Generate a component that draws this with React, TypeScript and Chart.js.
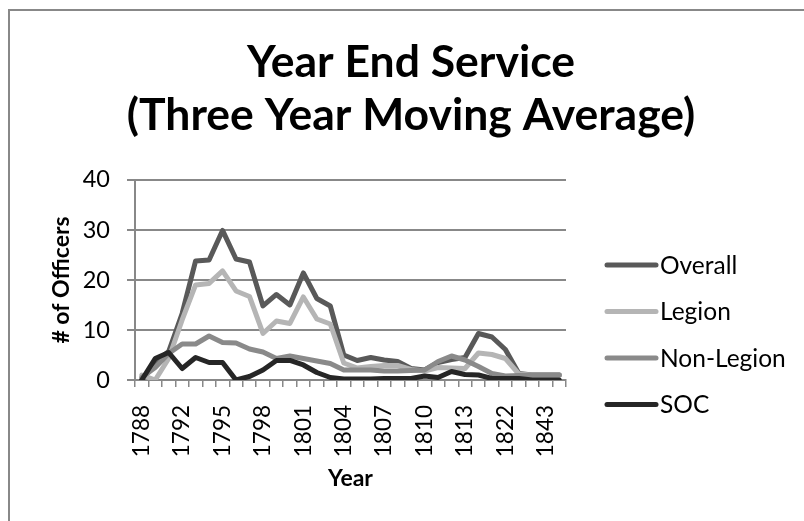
import React, { useEffect, useRef } from 'react';
import { Chart, registerables } from 'chart.js';

Chart.register(...registerables);

// ---- data ----
const years = [
  '1788', '1790', '1791', '1792', '1793', '1794', '1795', '1796', '1797', '1798',
  '1799', '1800', '1801', '1802', '1803', '1804', '1805', '1806', '1807', '1808',
  '1809', '1810', '1811', '1812', '1813', '1814', '1815', '1822', '1823', '1830',
  '1843', '1844',
];
const overall = [0, 3.5, 5.7, 13.3, 23.8, 24, 29.9, 24.2, 23.6, 14.8, 17.1, 15, 21.4, 16.3, 14.8, 5, 3.9, 4.5, 4, 3.7, 2.3, 2, 3.5, 4.1, 4.5, 9.3, 8.6, 6.1, 1.3, 1, 1, 1];
const legion = [1, 0, 4.3, 12, 19, 19.3, 21.8, 17.8, 16.7, 9.3, 11.8, 11.3, 16.6, 12.2, 11.2, 3.4, 2.4, 2.7, 2.9, 2.9, 2.1, 1.8, 2.5, 2.4, 2.3, 5.4, 5.1, 4.3, 1.2, 1, 1, 1];
const nonLegion = [0.5, 2.5, 5.3, 7.2, 7.2, 8.8, 7.5, 7.4, 6.2, 5.6, 4.3, 4.8, 4.3, 3.8, 3.3, 2, 2, 2, 1.8, 1.8, 1.9, 2, 3.7, 4.8, 4, 2.7, 1.3, 0.8, 0.9, 1, 1, 1];
const soc = [0, 4.3, 5.5, 2.3, 4.5, 3.5, 3.5, 0, 0.7, 2, 3.9, 3.9, 3, 1.5, 0.5, 0.2, 0.2, 0.2, 0.3, 0.3, 0.3, 0.8, 0.5, 1.7, 1.1, 1, 0.3, 0.3, 0.3, 0, 0, 0];

const seriesNames = ['Overall', 'Legion', 'Non-Legion', 'SOC'];
const seriesColors = ['#595959', '#b5b5b5', '#8a8a8a', '#262626'];
const titleLines = ['Year End Service', '(Three Year Moving Average)'];
const yTicks = { min: 0, max: 40, step: 10 };
const labelEvery = 3;

const FONT = 'Lato, "Open Sans", "DejaVu Sans", sans-serif';
const AXIS = '#888888';

export default function App() {
  const ref = useRef<HTMLCanvasElement>(null);

  useEffect(() => {
    if (!ref.current) return;

    const sideLegend = {
      id: 'sideLegend',
      afterDraw(chart: any) {
        const { ctx, chartArea } = chart;
        ctx.save();
        const x0 = chartArea.right + 41;
        chart.data.datasets.forEach((ds: any, i: number) => {
          const y = chartArea.top + 85 + i * 46.5;
          ctx.strokeStyle = ds.borderColor;
          ctx.lineWidth = 5;
          ctx.lineCap = 'round';
          ctx.beginPath();
          ctx.moveTo(x0, y);
          ctx.lineTo(x0 + 49, y);
          ctx.stroke();
          ctx.fillStyle = '#000';
          ctx.font = `24.5px ${FONT}`;
          ctx.textBaseline = 'middle';
          ctx.textAlign = 'left';
          ctx.fillText(ds.label, x0 + 53, y + 1);
        });
        ctx.restore();
      },
    };

    const values = [overall, legion, nonLegion, soc];
    const chart = new Chart(ref.current, {
      type: 'line',
      data: {
        labels: years,
        datasets: values.map((v, i) => ({
          label: seriesNames[i],
          data: v,
          borderColor: seriesColors[i],
          backgroundColor: seriesColors[i],
          borderWidth: 5,
          pointRadius: 0,
          pointHoverRadius: 0,
          tension: 0,
          borderJoinStyle: 'round' as const,
          borderCapStyle: 'round' as const,
          order: 4 - i,
        })),
      },
      options: {
        responsive: false,
        animation: false,
        devicePixelRatio: 1,
        layout: { padding: { left: 18, right: 0, top: 0, bottom: 0 } },
        plugins: {
          legend: { display: false },
          tooltip: { enabled: false },
          title: {
            display: true,
            text: titleLines,
            color: '#000',
            font: { family: FONT, size: 44.5, weight: 'bold', lineHeight: 1.19 },
            padding: { top: 36, bottom: 38 },
          },
        },
        scales: {
          x: {
            type: 'category',
            offset: true,
            grid: {
              display: true,
              drawOnChartArea: false,
              drawTicks: true,
              tickLength: 7,
              color: AXIS,
              lineWidth: 1.5,
              offset: true,
            },
            border: { display: true, color: AXIS, width: 2 },
            ticks: {
              autoSkip: false,
              minRotation: 90,
              maxRotation: 90,
              padding: 18,
              color: '#000',
              font: { family: FONT, size: 22.5 },
              callback: (_v: any, idx: number) => (idx % labelEvery === 0 ? years[idx] : ''),
            },
            title: {
              display: true,
              text: 'Year',
              color: '#000',
              font: { family: FONT, size: 23, weight: 'bold' },
              padding: { top: 0, bottom: 29 },
            },
            afterFit: (s: any) => {
              s.height = 141;
            },
          },
          y: {
            min: yTicks.min,
            max: yTicks.max,
            grid: {
              color: AXIS,
              lineWidth: 2,
              tickLength: 8,
              drawTicks: true,
            },
            border: { display: true, color: AXIS, width: 2 },
            ticks: {
              stepSize: yTicks.step,
              padding: 17,
              color: '#000',
              font: { family: FONT, size: 23.5 },
            },
            title: {
              display: true,
              text: '# of Officers',
              color: '#000',
              font: { family: FONT, size: 23, weight: 'bold' },
              padding: { top: 30, bottom: 0 },
            },
            afterFit: (s: any) => {
              s.width = 117;
            },
          },
          legendSpace: {
            position: 'right',
            display: true,
            grid: { display: false },
            border: { display: false },
            ticks: { display: false },
            afterFit: (s: any) => {
              s.width = 238;
            },
          } as any,
        },
      },
      plugins: [sideLegend],
    });

    return () => chart.destroy();
  }, []);

  return (
    <div
      style={{
        position: 'fixed',
        left: 0,
        top: 0,
        width: 804,
        height: 521,
        overflow: 'hidden',
        background: '#fff',
      }}
    >
      <div
        style={{
          position: 'absolute',
          left: 8,
          top: 9,
          width: 900,
          height: 700,
          borderLeft: '2px solid #888',
          borderTop: '2px solid #888',
        }}
      />
      <canvas
        ref={ref}
        width={804}
        height={521}
        style={{ position: 'absolute', left: 0, top: 0, width: 804, height: 521 }}
      />
    </div>
  );
}
